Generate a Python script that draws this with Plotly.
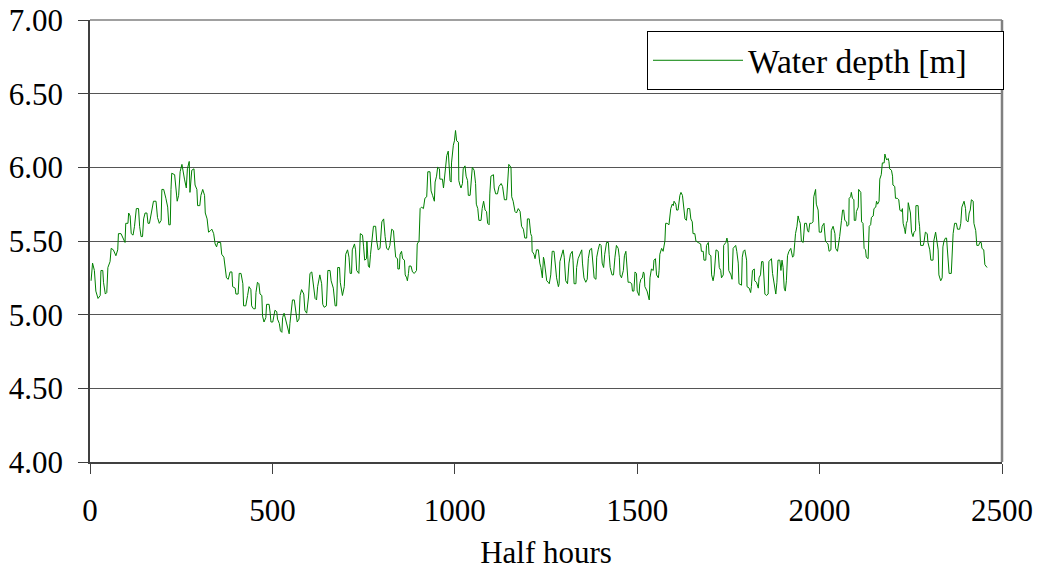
import plotly.graph_objects as go

# Half-hour index and water depth [m] (vertices of the trace)
half_hours = [
    3, 7, 12, 16, 22, 28, 30, 35, 37, 42, 46, 49, 55, 58, 64, 71, 76, 78, 85, 91, 96, 98, 104, 106, 110,
    113, 118, 122, 127, 133, 136, 140, 144, 147, 151, 156, 159, 163, 168, 174, 181, 185, 190, 195, 197,
    202, 208, 213, 216, 220, 222, 224, 232, 235, 239, 243, 247, 252, 255, 259, 264, 267, 272, 274, 279,
    285, 288, 293, 295, 301, 304, 309, 314, 316, 321, 325, 330, 334, 339, 343, 347, 350, 358, 361, 367,
    370, 374, 379, 384, 389, 391, 398, 400, 406, 409, 414, 419,
    421, 427, 432, 436, 441, 443, 448, 453, 455, 459, 463, 466, 471, 473, 477, 482, 484, 491, 494, 496,
    501, 504, 507, 512, 514, 519, 522, 526, 528, 532, 535, 537, 542, 546, 548, 551, 555, 560, 564, 568,
    573, 576, 580, 586, 589, 594, 599, 603, 608, 612, 617, 621, 624, 630, 635, 638, 642, 648, 652, 658,
    661, 667, 672, 676, 679, 684, 686, 692, 697, 701, 706, 710, 713, 717, 719, 725, 728, 731, 737, 741,
    747, 750, 753, 758, 759, 763, 766, 769, 772, 777, 783, 786, 790, 795, 800, 805, 809, 813, 818, 822, 827,
    832, 834, 836, 838, 843, 844, 848, 850, 854, 857, 862, 864, 868, 870, 873, 875, 880, 884, 889, 895,
    897, 902, 905, 909, 914, 918, 923, 926, 932, 935, 939, 944, 946, 950, 953, 958, 959, 966, 969, 973,
    978, 982, 984, 987, 990, 991, 996, 999, 1002, 1005, 1010, 1011, 1014, 1017, 1021, 1023, 1028, 1031,
    1035, 1037, 1042, 1044, 1048, 1053, 1057, 1059, 1063, 1066, 1072, 1075, 1079, 1083, 1087, 1090, 1094,
    1096, 1099, 1106, 1108, 1112, 1117, 1121, 1127, 1131, 1136, 1142, 1145, 1148, 1154, 1156, 1160, 1165,
    1169, 1174, 1179, 1183, 1188, 1192, 1197, 1199, 1204, 1208, 1211, 1212, 1217, 1220, 1224, 1229, 1233,
    1236, 1240,
    1243, 1245, 1249, 1252, 1256, 1259, 1263, 1267, 1272, 1275, 1279, 1284, 1286, 1288, 1293, 1297, 1300,
    1304, 1309, 1313, 1317, 1322, 1324, 1327, 1332, 1334, 1338, 1343, 1348, 1350, 1354, 1359, 1363, 1366,
    1370, 1375, 1378, 1382, 1387, 1389, 1393, 1397, 1401, 1404, 1408, 1411, 1416, 1421, 1423, 1426, 1431,
    1435, 1439, 1443, 1448, 1451, 1453, 1457, 1462, 1465, 1469, 1472, 1475, 1480, 1485, 1487, 1491, 1494,
    1498, 1500, 1505, 1507, 1510, 1514, 1517, 1519, 1521, 1527, 1533, 1535, 1539, 1544, 1546, 1550, 1553,
    1558, 1560, 1562, 1567, 1571, 1574, 1576, 1578, 1582, 1587, 1590, 1592, 1596, 1599, 1601, 1606, 1608,
    1612, 1617, 1620, 1624, 1628, 1631, 1635, 1638, 1644, 1647, 1651, 1653,
    1658, 1661, 1667, 1674, 1676, 1681, 1683, 1688, 1690, 1695, 1697, 1702, 1704, 1708, 1711, 1716, 1722,
    1725, 1729, 1731, 1736, 1737, 1743, 1746, 1749, 1751, 1757, 1760, 1763, 1768, 1770, 1773, 1777, 1779,
    1786, 1788, 1791, 1795, 1800, 1801, 1807, 1811, 1813, 1816, 1821, 1822, 1827, 1832, 1834, 1838, 1841,
    1845, 1848, 1850, 1854, 1859, 1861, 1865, 1868, 1871, 1875, 1880, 1883, 1886, 1891, 1894, 1897, 1900,
    1903, 1906, 1909, 1912, 1916, 1921, 1926, 1929, 1932, 1934, 1938, 1941, 1944, 1947, 1950, 1955, 1959,
    1964, 1967, 1970, 1973, 1978, 1982, 1984, 1989, 1991, 1996, 1999, 2005, 2007, 2012, 2016, 2019, 2023,
    2026, 2031, 2032, 2037, 2042, 2044, 2049, 2053, 2055, 2060, 2063,
    2066, 2069, 2074, 2075, 2080, 2081, 2085, 2087, 2090, 2094, 2095, 2099, 2101, 2106, 2107, 2113, 2115,
    2119, 2122, 2126, 2128, 2133, 2136, 2140, 2142, 2147, 2149, 2154, 2156, 2159, 2163, 2165, 2169, 2172,
    2177, 2179, 2181, 2184, 2188, 2190, 2192, 2197, 2200, 2201, 2206, 2208, 2213, 2217, 2220, 2224, 2227,
    2229, 2233, 2235, 2238, 2241, 2243, 2245, 2249, 2252, 2256, 2259, 2263, 2264, 2270, 2272, 2274, 2277,
    2284, 2286, 2290, 2295, 2297, 2302, 2305, 2311, 2313, 2318, 2321, 2325, 2327, 2332, 2336, 2338, 2341,
    2345, 2348, 2350, 2355, 2361, 2364, 2366, 2370, 2375, 2378, 2384, 2387, 2390, 2396, 2400, 2402, 2407,
    2410, 2413, 2416, 2421, 2423, 2428, 2431, 2436, 2439, 2443, 2445, 2450, 2453, 2457, 2459,
]

water_depth = [
    5.23, 5.35, 5.30, 5.16, 5.11, 5.13, 5.30, 5.30, 5.22, 5.14, 5.15, 5.32, 5.36, 5.45, 5.44, 5.40, 5.44, 5.55, 5.55, 5.52, 5.49, 5.62, 5.62, 5.69, 5.67,
    5.55, 5.54, 5.60, 5.72, 5.72, 5.60, 5.53, 5.53, 5.65, 5.69, 5.69, 5.62, 5.62, 5.70, 5.77, 5.77, 5.66, 5.62, 5.64, 5.85,
    5.85, 5.79, 5.73, 5.61, 5.61, 5.85, 5.96, 5.95, 5.86, 5.77, 5.81, 5.97, 6.02, 5.96, 5.92, 5.86, 5.99, 6.04, 5.83, 5.98,
    5.99, 5.88, 5.85, 5.74, 5.74, 5.81, 5.85, 5.81, 5.69, 5.65, 5.56, 5.57, 5.58, 5.55, 5.48, 5.46, 5.49, 5.49, 5.41, 5.39,
    5.32, 5.25, 5.24, 5.29, 5.29, 5.19, 5.18, 5.14, 5.14, 5.28, 5.28, 5.21,
    5.06, 5.06, 5.13, 5.19, 5.17, 5.06, 5.04, 5.04, 5.15, 5.22, 5.21, 5.14, 5.13, 4.99, 4.95, 4.98, 5.07, 5.07, 5.01, 4.95,
    4.95, 4.99, 5.03, 5.02, 4.97, 4.94, 4.89, 4.88, 4.98, 5.01, 4.98, 4.96, 4.92, 4.87, 4.94, 5.03, 5.10, 5.10, 5.03, 4.95,
    4.97, 5.13, 5.17, 5.14, 5.03, 5.01, 5.12, 5.28, 5.29, 5.19, 5.11, 5.10, 5.19, 5.27, 5.21, 5.07, 5.05, 5.06, 5.30, 5.30,
    5.23, 5.18, 5.06, 5.06, 5.32, 5.32, 5.22, 5.13, 5.19, 5.41, 5.44, 5.39, 5.28, 5.28, 5.44, 5.48, 5.44, 5.30, 5.28, 5.55,
    5.54, 5.46, 5.37, 5.38, 5.50, 5.33, 5.32, 5.41, 5.49, 5.60, 5.60, 5.50, 5.44, 5.45, 5.63, 5.65, 5.53, 5.45, 5.44, 5.47, 5.58,
    5.57, 5.50, 5.44, 5.39, 5.38, 5.31, 5.31, 5.41, 5.43, 5.38, 5.37, 5.27, 5.25, 5.23, 5.28, 5.33, 5.33, 5.29, 5.28, 5.30,
    5.48, 5.50, 5.72, 5.73, 5.72, 5.79, 5.80, 5.97, 5.97, 5.84, 5.81, 5.77, 5.90, 5.94, 6.00, 5.99, 5.92, 5.92, 5.86, 5.97,
    6.08, 6.11, 6.05, 5.91, 5.90, 6.03, 6.15, 6.18, 6.25, 6.18, 6.17, 5.91, 5.88, 5.86, 5.89, 5.99, 6.01, 5.94,
    5.91, 5.81, 5.81, 5.90, 6.00, 5.98, 5.89, 5.75, 5.72, 5.64, 5.64, 5.72, 5.77, 5.71, 5.70, 5.62, 5.61,
    5.82, 5.94, 5.95, 5.86, 5.82, 5.82, 5.87, 5.89, 5.87, 5.78, 5.78, 5.87, 6.02, 6.00, 5.80, 5.77, 5.70,
    5.69, 5.72, 5.70, 5.60, 5.58, 5.52, 5.52, 5.65, 5.65, 5.55, 5.53, 5.43, 5.41, 5.38, 5.44, 5.44, 5.35,
    5.32, 5.25,
    5.39, 5.37, 5.30, 5.23, 5.22, 5.21, 5.27, 5.43, 5.43, 5.35, 5.25, 5.19, 5.21, 5.36, 5.40, 5.44, 5.39,
    5.23, 5.21, 5.35, 5.41, 5.43, 5.37, 5.21, 5.21, 5.32, 5.38, 5.41, 5.44, 5.35, 5.25, 5.22, 5.24, 5.38,
    5.44, 5.45, 5.35, 5.25, 5.24, 5.39, 5.44, 5.48, 5.47, 5.35, 5.32, 5.41, 5.49, 5.49, 5.41, 5.32, 5.27,
    5.27, 5.39, 5.47, 5.45, 5.39, 5.27, 5.25, 5.30, 5.40, 5.43, 5.32, 5.22, 5.22, 5.21, 5.16, 5.16, 5.29,
    5.28, 5.16, 5.13, 5.21, 5.24, 5.25, 5.29, 5.28, 5.19, 5.16, 5.10, 5.25, 5.31, 5.30, 5.37, 5.38, 5.27,
    5.25, 5.30, 5.41, 5.45, 5.43, 5.46, 5.50, 5.62, 5.62, 5.61, 5.71, 5.72, 5.75, 5.74, 5.77, 5.75, 5.71,
    5.71, 5.81, 5.83, 5.81, 5.70, 5.65, 5.64, 5.72, 5.72, 5.65, 5.63, 5.55,
    5.55, 5.50, 5.49, 5.48, 5.43, 5.43, 5.37, 5.37, 5.47, 5.49, 5.41, 5.40, 5.27, 5.23, 5.27, 5.44, 5.43,
    5.32, 5.30, 5.25, 5.27, 5.47, 5.49, 5.52, 5.48, 5.30, 5.27, 5.24, 5.45, 5.46, 5.47, 5.43, 5.35, 5.21,
    5.20, 5.39, 5.43, 5.44, 5.37, 5.19, 5.18, 5.15, 5.19, 5.30, 5.31, 5.23, 5.22, 5.18, 5.25, 5.27, 5.36,
    5.36, 5.23, 5.14, 5.13, 5.14, 5.36, 5.37, 5.38, 5.28, 5.22, 5.14, 5.22, 5.37, 5.37, 5.30, 5.37, 5.32,
    5.18, 5.16, 5.23, 5.40, 5.43, 5.45, 5.39, 5.40, 5.49, 5.55, 5.60, 5.67, 5.64, 5.62, 5.50, 5.49, 5.62,
    5.62, 5.57, 5.56, 5.62, 5.62, 5.63, 5.80, 5.85, 5.75, 5.71, 5.56, 5.56, 5.60, 5.62, 5.50, 5.49, 5.48,
    5.43, 5.44, 5.57, 5.60, 5.55, 5.45, 5.43, 5.49, 5.53, 5.64, 5.71,
    5.71, 5.64, 5.63, 5.60, 5.61, 5.79, 5.80, 5.83, 5.79, 5.78, 5.64, 5.64, 5.70, 5.73, 5.85, 5.83, 5.63,
    5.62, 5.45, 5.44, 5.39, 5.38, 5.60, 5.61, 5.66, 5.67, 5.72, 5.73, 5.77, 5.75, 5.77, 5.92, 5.95, 6.03,
    6.03, 6.09, 6.07, 6.05, 6.06, 6.04, 5.99, 5.98, 5.94, 5.88, 5.87, 5.79, 5.79, 5.78, 5.71, 5.70, 5.72,
    5.62, 5.58, 5.55, 5.62, 5.64, 5.76, 5.73, 5.69, 5.56, 5.53, 5.56, 5.57, 5.74, 5.74, 5.64, 5.60, 5.47,
    5.47, 5.49, 5.56, 5.55, 5.49, 5.44, 5.37, 5.37, 5.50, 5.56, 5.49, 5.44, 5.27, 5.23, 5.25, 5.46, 5.50,
    5.52, 5.52, 5.46, 5.28, 5.28, 5.50, 5.55, 5.62, 5.62, 5.58, 5.58, 5.62, 5.73, 5.77, 5.72, 5.64, 5.63,
    5.69, 5.71, 5.78, 5.77, 5.62, 5.57, 5.47, 5.47, 5.49, 5.49, 5.45, 5.44, 5.34, 5.32, 5.32,
]

series_name = "Water depth [m]"
x_title = "Half hours"
x_ticks = [0, 500, 1000, 1500, 2000, 2500]
y_ticks = [4.0, 4.5, 5.0, 5.5, 6.0, 6.5, 7.0]

FONT = "Liberation Serif"

fig = go.Figure()
fig.add_trace(go.Scatter(
    x=half_hours, y=water_depth, mode="lines", name=series_name,
    line=dict(color="#008000", width=1),
    showlegend=True,
))

fig.update_layout(
    width=1040, height=571,
    margin=dict(l=90, r=38, t=20, b=109, autoexpand=False),
    paper_bgcolor="white", plot_bgcolor="white",
    font=dict(family=FONT, size=31, color="black"),
    showlegend=True,
    legend=dict(
        orientation="h",
        x=(647 - 90) / 912, xanchor="left", y=(462 - 31) / 442, yanchor="top",
        bgcolor="white", bordercolor="black", borderwidth=1,
        font=dict(family=FONT, size=33.5, color="black"),
        itemwidth=90,
        entrywidth=250, entrywidthmode="pixels",
    ),
    xaxis=dict(
        range=[0, 2500], tickvals=x_ticks, ticks="outside", ticklen=10,
        tickcolor="#404040", showline=True, linecolor="#404040", linewidth=1.5,
        showgrid=False, zeroline=False, automargin=False,
        title=dict(text=x_title, font=dict(family=FONT, size=31), standoff=14),
        ticklabelstandoff=10,
    ),
    yaxis=dict(
        range=[4, 7], tickvals=y_ticks, tickformat=".2f", ticks="outside", ticklen=10,
        tickcolor="#404040", showline=True, linecolor="#404040", linewidth=1.5,
        showgrid=True, gridcolor="#555555", gridwidth=1, zeroline=False,
        automargin=False, ticklabelstandoff=9,
    ),
    shapes=[
        dict(type="line", xref="paper", yref="paper", x0=1, x1=1, y0=0, y1=1,
             line=dict(color="#808080", width=2.5)),
        dict(type="line", xref="paper", yref="paper", x0=0, x1=1, y0=1, y1=1,
             line=dict(color="#808080", width=1.5)),
    ],
)

fig.write_html("out.html")
